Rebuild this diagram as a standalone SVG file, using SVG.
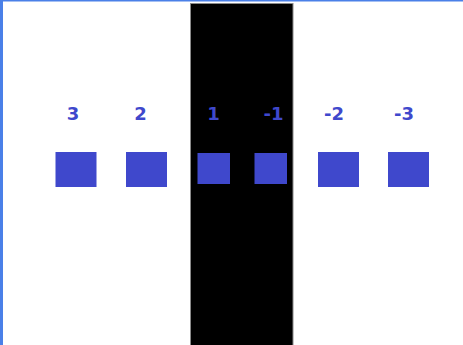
<svg xmlns="http://www.w3.org/2000/svg" width="463" height="345" viewBox="0 0 463 345">
<style>
.lbl{font-family:"DejaVu Sans",Verdana,sans-serif;font-weight:bold;font-size:18px;fill:#3f48cc;text-anchor:middle}
.sq{fill:#3f48cc}
</style>
<rect x="0" y="0" width="463" height="345" fill="#ffffff"/>
<rect x="0" y="0" width="463" height="1.5" fill="#4a80e8"/>
<rect x="0" y="0" width="3" height="345" fill="#4a80e8"/>
<rect id="band" x="190.5" y="3.5" width="102.5" height="345" fill="#000000" stroke="#8a8a8a" stroke-width="1"/>
<g id="node-3"><text class="lbl" x="73" y="120">3</text><rect class="sq" x="55.5" y="152" width="41" height="35"/></g>
<g id="node-2"><text class="lbl" x="140.5" y="120">2</text><rect class="sq" x="126" y="152" width="41" height="35"/></g>
<g id="node-1"><text class="lbl" x="213.5" y="120">1</text><rect class="sq" x="197.5" y="153" width="32.5" height="31"/></g>
<g id="node-m1"><text class="lbl" x="273.5" y="120">-1</text><rect class="sq" x="254.5" y="153" width="32.5" height="31"/></g>
<g id="node-m2"><text class="lbl" x="334" y="120">-2</text><rect class="sq" x="318" y="152" width="41" height="35"/></g>
<g id="node-m3"><text class="lbl" x="404" y="120">-3</text><rect class="sq" x="388" y="152" width="41" height="35"/></g>
<g id="connectors"/>
</svg>
